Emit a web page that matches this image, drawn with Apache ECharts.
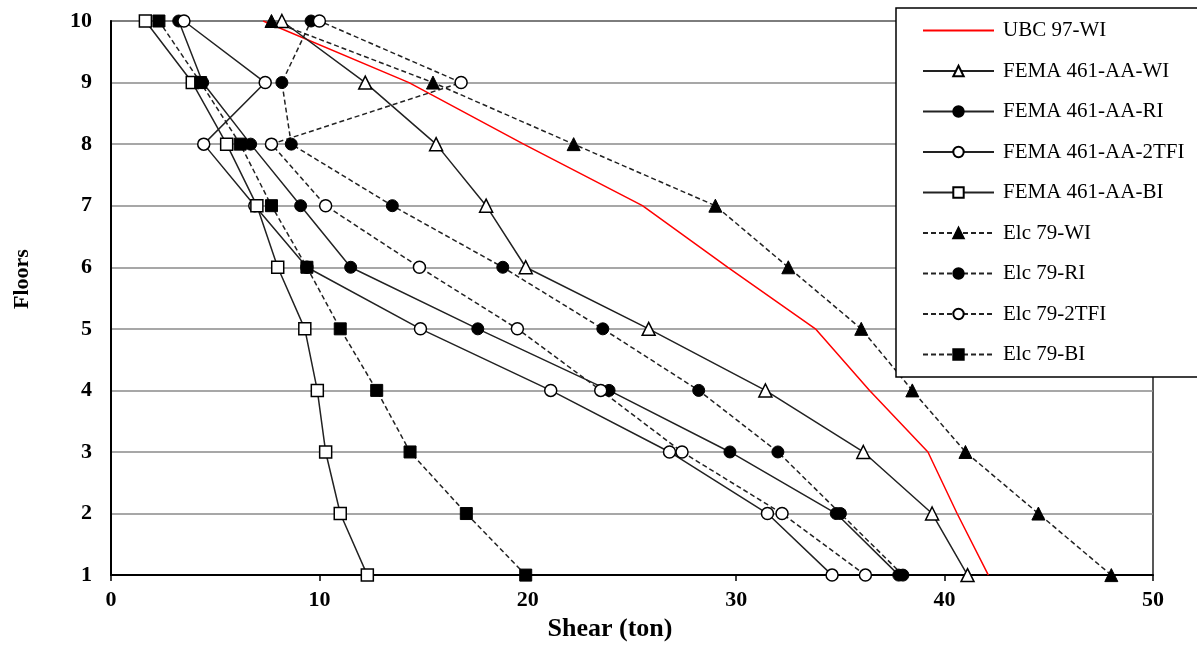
<!DOCTYPE html>
<html>
<head>
<meta charset="utf-8">
<script src="https://cdn.jsdelivr.net/npm/echarts@6/dist/echarts.min.js"></script>
<style>
html,body{margin:0;padding:0;background:#fff;}
#chart{width:1197px;height:647px;}
</style>
</head>
<body>
<div id="chart"></div>
<script>
// Floors (y) and shear values (x, ton), floor 1 .. floor 10
const floors = [1, 2, 3, 4, 5, 6, 7, 8, 9, 10];
const ubc97WI  = [42.1, 40.6, 39.2, 36.4, 33.8, 29.6, 25.5, 19.8, 14.3, 7.3];
const femaWI   = [41.1, 39.4, 36.1, 31.4, 25.8, 19.9, 18.0, 15.6, 12.2, 8.2];
const femaRI   = [37.8, 34.8, 29.7, 23.9, 17.6, 11.5, 9.1, 6.7, 4.4, 3.25];
const fema2TFI = [34.6, 31.5, 26.8, 21.1, 14.85, 9.4, 6.9, 4.45, 7.4, 3.5];
const femaBI   = [12.3, 11.0, 10.3, 9.9, 9.3, 8.0, 7.0, 5.55, 3.9, 1.65];
const elcWI    = [48.0, 44.5, 41.0, 38.45, 36.0, 32.5, 29.0, 22.2, 15.45, 7.7];
const elcRI    = [38.0, 35.0, 32.0, 28.2, 23.6, 18.8, 13.5, 8.65, 8.2, 9.6];
const elc2TFI  = [36.2, 32.2, 27.4, 23.5, 19.5, 14.8, 10.3, 7.7, 16.8, 10.0];
const elcBI    = [19.9, 17.05, 14.35, 12.75, 11.0, 9.4, 7.7, 6.2, 4.3, 2.3];

const seriesNames = ['UBC 97-WI', 'FEMA 461-AA-WI', 'FEMA 461-AA-RI', 'FEMA 461-AA-2TFI', 'FEMA 461-AA-BI',
                     'Elc 79-WI', 'Elc 79-RI', 'Elc 79-2TFI', 'Elc 79-BI'];

const FONT = 'Liberation Serif';
const pts = arr => arr.map((v, i) => [v, floors[i]]);

function mk(name, arr, symbol, filled, dashed) {
  const size = symbol === 'triangle' ? 13 : 12;
  return {
    name: name,
    type: 'line',
    data: pts(arr),
    symbol: symbol,
    symbolSize: size,
    showSymbol: true,
    lineStyle: { color: '#222', width: 1.5, type: dashed ? [5, 3] : 'solid' },
    itemStyle: filled
      ? { color: '#000', borderColor: '#000', borderWidth: 1 }
      : { color: '#fff', borderColor: '#000', borderWidth: 1.5 },
    emphasis: { disabled: true },
    animation: false
  };
}

const legendData = seriesNames.map(n => n === 'UBC 97-WI'
  ? { name: n, itemStyle: { color: 'rgba(0,0,0,0)', borderWidth: 0, opacity: 0 } }
  : { name: n });

const chart = echarts.init(document.getElementById('chart'), null, { renderer: 'canvas' });
chart.setOption({
  backgroundColor: '#fff',
  animation: false,
  grid: { left: 111, right: 44, top: 21, bottom: 66, show: true, borderColor: '#222', borderWidth: 1.5, backgroundColor: 'transparent' },
  xAxis: {
    type: 'value', min: 0, max: 50, interval: 10,
    name: 'Shear (ton)', nameLocation: 'middle', nameGap: 36,
    nameTextStyle: { fontFamily: FONT, fontWeight: 'bold', fontSize: 26, color: '#000', padding: [0, 44, 0, 0] },
    axisLine: { show: true, lineStyle: { color: '#000', width: 2 } },
    axisTick: { show: true, length: 6, inside: false, lineStyle: { color: '#000', width: 1.5 } },
    axisLabel: { fontFamily: FONT, fontWeight: 'bold', fontSize: 22, color: '#000', margin: 14 },
    splitLine: { show: false }
  },
  yAxis: {
    type: 'value', min: 1, max: 10, interval: 1,
    name: 'Floors', nameLocation: 'middle', nameGap: 78, nameRotate: 90,
    nameTextStyle: { fontFamily: FONT, fontWeight: 'bold', fontSize: 22, color: '#000', padding: [0, 0, 0, 38] },
    axisLine: { show: true, lineStyle: { color: '#000', width: 2 } },
    axisTick: { show: false },
    axisLabel: { fontFamily: FONT, fontWeight: 'bold', fontSize: 22, color: '#000', margin: 19 },
    splitLine: { show: true, lineStyle: { color: '#8a8a8a', width: 1.5 } }
  },
  legend: {
    data: legendData,
    orient: 'vertical',
    left: 896, top: 8,
    width: 299, height: 367,
    backgroundColor: '#fff',
    borderColor: '#000', borderWidth: 1.5, borderRadius: 0,
    padding: [12, 60, 12, 26],
    itemWidth: 71, itemHeight: 13, itemGap: 19.5,
    textStyle: { fontFamily: FONT, fontSize: 21, color: '#000', lineHeight: 21, padding: [0, 0, 0, 4] },
    selectedMode: false,
    z: 10
  },
  series: [
    {
      name: 'UBC 97-WI', type: 'line', data: pts(ubc97WI),
      symbol: 'none', showSymbol: false,
      lineStyle: { color: '#ff0000', width: 1.5 },
      itemStyle: { color: '#ff0000' },
      emphasis: { disabled: true }, animation: false
    },
    mk('FEMA 461-AA-WI', femaWI, 'triangle', false, false),
    mk('FEMA 461-AA-RI', femaRI, 'circle', true, false),
    mk('FEMA 461-AA-2TFI', fema2TFI, 'circle', false, false),
    mk('FEMA 461-AA-BI', femaBI, 'rect', false, false),
    mk('Elc 79-WI', elcWI, 'triangle', true, true),
    mk('Elc 79-RI', elcRI, 'circle', true, true),
    mk('Elc 79-2TFI', elc2TFI, 'circle', false, true),
    mk('Elc 79-BI', elcBI, 'rect', true, true)
  ]
});
</script>
</body>
</html>
